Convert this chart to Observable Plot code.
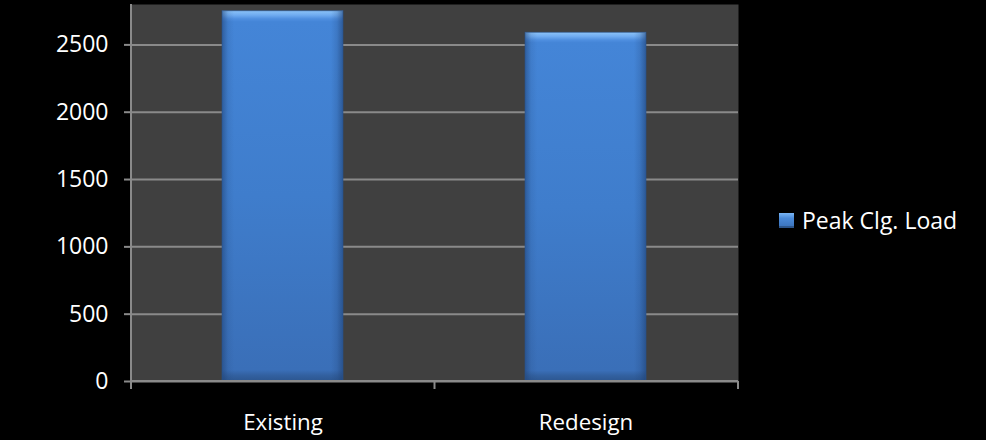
<!DOCTYPE html>
<html>
<head>
<meta charset="utf-8">
<script src="https://cdn.jsdelivr.net/npm/d3@7"></script>
<script src="https://cdn.jsdelivr.net/npm/@observablehq/plot@0.6"></script>
<style>
  html, body { margin: 0; padding: 0; background: #000; }
  #wrap { position: relative; width: 986px; height: 440px; overflow: hidden; }
  #legend { position: absolute; left: 779px; top: 204px; display: flex; align-items: center;
    font-family: "Open Sans", sans-serif; font-size: 23px; color: #fff; white-space: nowrap; }
  #legend .sw { width: 15px; height: 15px; margin-right: 8px;
    background: linear-gradient(to bottom, #7ab6f5 0%, #4a8ad8 35%, #3a70b8 100%);
    box-shadow: inset 0 -2px 0 rgba(0,0,0,0.25); }
</style>
</head>
<body>
<div id="wrap"><div id="legend"><div class="sw"></div><span>Peak Clg. Load</span></div></div>
<script>
const categories = ["Existing", "Redesign"];
const peakClgLoad = [2750, 2590];
const yTicks = [0, 500, 1000, 1500, 2000, 2500];
const seriesName = "Peak Clg. Load";

const data = categories.map((c, i) => ({category: c, value: peakClgLoad[i]}));

const W = 986, H = 440;
const mL = 131, mR = 248, mT = 4, mB = 59;

const axisLines = (index, scales, values, dims) => {
  const g = d3.create("svg:g");
  const x0 = dims.marginLeft, x1 = dims.width - dims.marginRight;
  const yb = dims.height - dims.marginBottom, yt = dims.marginTop;
  const n = categories.length;
  const step = (x1 - x0) / n;
  g.append("line").attr("x1", x0).attr("x2", x0).attr("y1", yt).attr("y2", yb + 0.5)
    .attr("stroke", "#8a8a8a").attr("stroke-width", 2);
  g.append("line").attr("x1", x0).attr("x2", x1).attr("y1", yb).attr("y2", yb)
    .attr("stroke", "#8a8a8a").attr("stroke-width", 2);
  for (let i = 0; i <= n; i++) {
    const x = x0 + step * i;
    g.append("line").attr("x1", x).attr("x2", x).attr("y1", yb).attr("y2", yb + 8)
      .attr("stroke", "#8a8a8a").attr("stroke-width", 2);
  }
  return g.node();
};

const plot = Plot.plot({
  width: W,
  height: H,
  marginLeft: mL,
  marginRight: mR,
  marginTop: mT,
  marginBottom: mB,
  style: {background: "#000", color: "#fff", fontFamily: "'Open Sans', sans-serif", fontSize: "23px", overflow: "visible"},
  x: {domain: categories, paddingInner: 0.6, paddingOuter: 0.3, label: null},
  y: {domain: [0, 2800], label: null},
  marks: [
    Plot.frame({fill: "#404040", stroke: null}),
    Plot.ruleY(yTicks, {stroke: "#8a8a8a", strokeWidth: 2, strokeOpacity: 1}),
    Plot.barY(data, {x: "category", y: "value", fill: "url(#barV)"}),
    Plot.barY(data, {x: "category", y: "value", fill: "url(#barH)"}),
    Plot.barY(data, {x: "category", y: "value", fill: "none", stroke: "#2a5590", strokeWidth: 1, strokeOpacity: 0.6, title: d => `${seriesName}: ${d.value}`}),
    Plot.axisY({ticks: yTicks, tickSize: 7, tickPadding: 16, stroke: "#8a8a8a", strokeWidth: 2, fill: "#fff", fontSize: 23, label: null, tickFormat: d => String(d)}),
    Plot.axisX({tickSize: 0, tickPadding: 33, fill: "#fff", fontSize: 22.3, label: null}),
    axisLines
  ]
});

const svg = d3.select(plot.tagName === "svg" ? plot : plot.querySelector("svg"));
const defs = svg.insert("defs", ":first-child");
const gv = defs.append("linearGradient").attr("id", "barV").attr("x1", 0).attr("x2", 0).attr("y1", 0).attr("y2", 1);
[[0, "#8cc3f8"], [0.012, "#6fabf0"], [0.022, "#4f8fe0"], [0.03, "#4485d7"], [0.5, "#3f7dcc"], [0.97, "#3a6fb8"], [0.985, "#32609f"], [1, "#2c5690"]]
  .forEach(([o, c]) => gv.append("stop").attr("offset", o).attr("stop-color", c));
const gh = defs.append("linearGradient").attr("id", "barH").attr("x1", 0).attr("x2", 1).attr("y1", 0).attr("y2", 0);
[[0, "#1e3f70", 0.55], [0.05, "#1e3f70", 0.12], [0.1, "#1e3f70", 0], [0.9, "#1e3f70", 0], [0.95, "#1e3f70", 0.18], [1, "#1e3f70", 0.6]]
  .forEach(([o, c, a]) => gh.append("stop").attr("offset", o).attr("stop-color", c).attr("stop-opacity", a));

document.getElementById("wrap").prepend(plot);
</script>
</body>
</html>
